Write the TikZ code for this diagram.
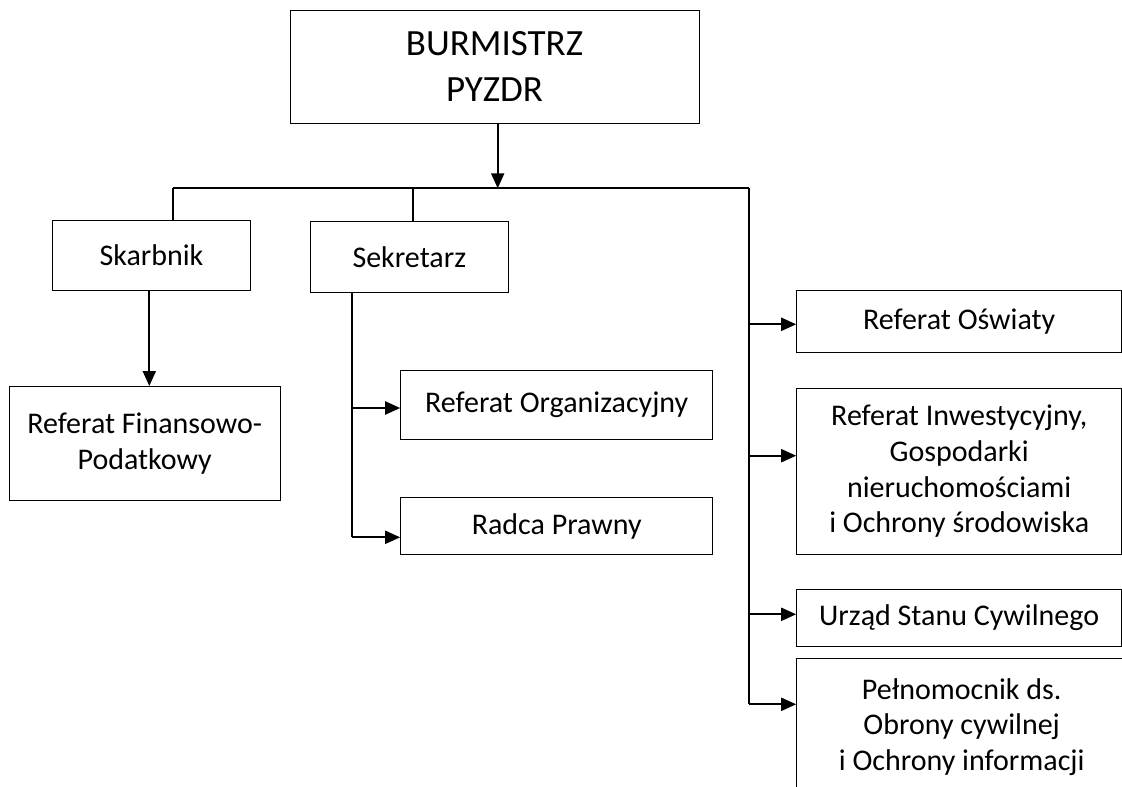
\documentclass[tikz,border=0pt]{standalone}
\usepackage{fontspec}
\setmainfont{Carlito}
\usetikzlibrary{arrows.meta}

\begin{document}
\begin{tikzpicture}[x=1pt,y=-1pt,
  box/.style={draw, line width=1pt, rectangle, align=center, inner sep=0pt,
    font=\fontsize{30}{35.7}\selectfont},
  link/.style={line width=2pt},
  arrow/.style={line width=2pt, -{Triangle[length=15pt,width=13pt]}}]

\useasboundingbox (0,0) rectangle (1122,787);

% Burmistrz at the top
\node[box, minimum width=409pt, minimum height=113pt, font=\fontsize{37}{45.7}\selectfont]
  (burm) at (494.5,66.7) {BURMISTRZ\\PYZDR};

% Skarbnik and Sekretarz
\node[box, minimum width=198pt, minimum height=70pt] (skarb) at (151.5,255.2) {Skarbnik};
\node[box, minimum width=198pt, minimum height=71pt] (sekr) at (409.3,257.2) {Sekretarz};

% Left column of referats
\node[box, minimum width=271pt, minimum height=114pt, font=\fontsize{30}{36}\selectfont]
  (finan) at (144.7,443.5) {Referat Finansowo-\\Podatkowy};
\node[box, minimum width=312pt, minimum height=69pt] (organ) at (556.7,404.5) {Referat Organizacyjny};
\node[box, minimum width=312pt, minimum height=57pt] (radca) at (556.7,526.2) {Radca Prawny};

% Right column of referats
\node[box, minimum width=325pt, minimum height=62pt] (oswiat) at (959.2,321.7) {Referat Oświaty};
\node[box, minimum width=325pt, minimum height=166pt] (inwest) at (959.2,471.5)
  {Referat Inwestycyjny,\\Gospodarki\\nieruchomościami\\i Ochrony środowiska};
\node[box, minimum width=325pt, minimum height=57pt] (urzad) at (959.2,617.5) {Urząd Stanu Cywilnego};
\node[box, minimum width=330pt, minimum height=138pt] (pelnom) at (961.7,727)
  {Pełnomocnik ds.\\Obrony cywilnej\\i Ochrony informacji};

% Bus line under the Burmistrz
\coordinate (busL) at (172.7,188.3);
\coordinate (busM) at (497.7,188.3);
\coordinate (busS) at (412.7,188.3);
\coordinate (busR) at (749.3,188.3);
\draw[arrow] (busM |- burm.south) -- (busM);
\draw[link] (busL) -- (busR);
\draw[link] (busL) -- (busL |- skarb.north);
\draw[link] (busS) -- (busS |- sekr.north);

% Skarbnik down to its referat
\coordinate (skarbD) at (149.3,290.3);
\draw[arrow] (skarbD) -- (skarbD |- finan.north);

% Sekretarz branch
\coordinate (sekrD) at (351.7,292.7);
\coordinate (sekrA) at (351.7,408);
\coordinate (sekrB) at (351.7,537.3);
\draw[link] (sekrD) -- (sekrB);
\draw[arrow] (sekrA) -- (sekrA -| organ.west);
\draw[arrow] (sekrB) -- (sekrB -| radca.west);

% Right branch
\coordinate (rA) at (749.3,324.3);
\coordinate (rB) at (749.3,455.7);
\coordinate (rC) at (749.3,614.3);
\coordinate (rD) at (749.3,704.3);
\draw[link] (busR) -- (rD);
\draw[arrow] (rA) -- (rA -| oswiat.west);
\draw[arrow] (rB) -- (rB -| inwest.west);
\draw[arrow] (rC) -- (rC -| urzad.west);
\draw[arrow] (rD) -- (rD -| pelnom.west);

\end{tikzpicture}
\end{document}
